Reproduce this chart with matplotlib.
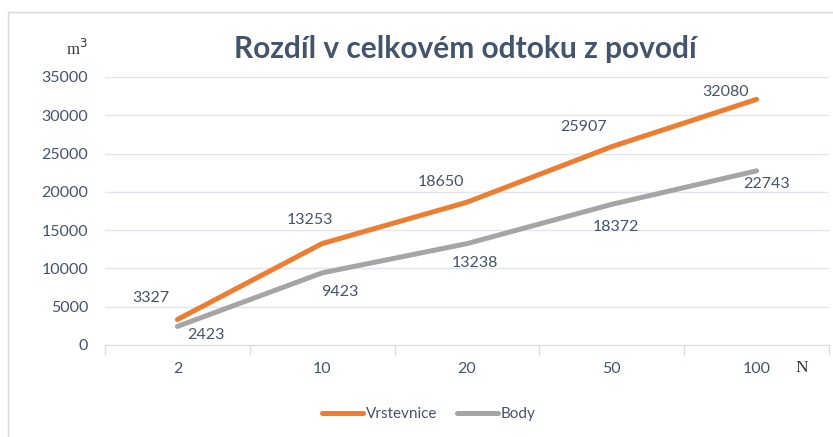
import matplotlib
matplotlib.use("Agg")
import matplotlib.pyplot as plt
from matplotlib.patches import Rectangle

categories = ["2", "10", "20", "50", "100"]
vrstevnice = [3327, 13253, 18650, 25907, 32080]
body = [2423, 9423, 13238, 18372, 22743]
yticks = [0, 5000, 10000, 15000, 20000, 25000, 30000, 35000]

# label offsets in pixels (style only)
v_off = [(-27, 22), (-12, 24), (-26, 20), (-28, 20), (-31, 7)]
b_off = [(28, -9), (18, -19), (8, -19), (4, -23), (10, -13)]

txt = "#44546A"
orange = "#ED7D31"
gray = "#A5A5A5"
plt.rcParams['font.family'] = ['Lato', 'DejaVu Sans']

fig = plt.figure(figsize=(8.33, 4.37), dpi=100)
ax = fig.add_axes([105/833, 1-345/437, (829-105)/833, (345-77)/437])

x = list(range(len(categories)))
ax.plot(x, vrstevnice, color=orange, lw=3.6, solid_capstyle='round', label="Vrstevnice", zorder=3)
ax.plot(x, body, color=gray, lw=3.6, solid_capstyle='round', label="Body", zorder=3)

for i, v in enumerate(vrstevnice):
    ax.annotate(str(v), (x[i], v), xytext=v_off[i], textcoords='offset pixels',
                ha='center', va='center', fontsize=11.5, color=txt)
for i, v in enumerate(body):
    ax.annotate(str(v), (x[i], v), xytext=b_off[i], textcoords='offset pixels',
                ha='center', va='center', fontsize=11.5, color=txt)

ax.set_xlim(-0.5, len(categories)-0.5)
ax.set_ylim(0, 35000)
ax.set_yticks(yticks)
ax.set_yticklabels([str(t) for t in yticks])
ax.set_xticks(x)
ax.set_xticklabels(categories)
ax.set_xticks([i-0.5 for i in range(len(categories)+1)], minor=True)
ax.tick_params(axis='x', which='major', length=0, pad=12, labelsize=11.5, labelcolor=txt)
ax.tick_params(axis='x', which='minor', length=7, color='#D9DDE4', width=1)
ax.tick_params(axis='y', length=0, pad=12, labelsize=11.5, labelcolor=txt)
ax.grid(axis='y', color='#E1E5EC', lw=1)
ax.set_axisbelow(True)
for s in ['left', 'right', 'top']:
    ax.spines[s].set_visible(False)
ax.spines['bottom'].set_color('#D9DDE4')

fig.text(465/833, 1-49/437, "Rozdíl v celkovém odtoku z povodí", ha='center', va='center',
         fontsize=21.5, fontweight='bold', color=txt)
fig.text(77/833, 1-49/437, "m$^3$", ha='center', va='center', fontsize=12,
         family='Liberation Serif', color='#333333')
fig.text(802/833, 1-368/437, "N", ha='center', va='center', fontsize=12.5,
         family='Liberation Serif', color='#333333')

leg = fig.legend(loc='center', bbox_to_anchor=(429/833, 1-414/437), ncol=2, frameon=False,
                 fontsize=11, handlelength=2.7, handletextpad=0.2, columnspacing=1.25)
for t in leg.get_texts():
    t.set_color(txt)

fig.patches.append(Rectangle((8/833, -0.02), 1.0, 1-12/437+0.02, transform=fig.transFigure,
                             fill=False, edgecolor='#D9D9D9', lw=1))

fig.savefig("out.png", dpi=100)
